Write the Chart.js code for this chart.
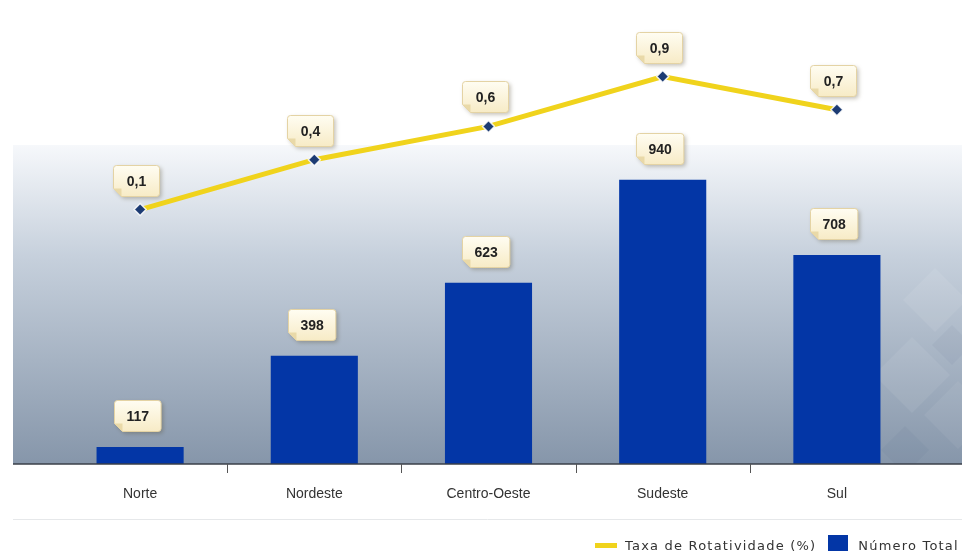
<!DOCTYPE html>
<html lang="pt">
<head>
<meta charset="utf-8">
<title>Rotatividade por região</title>
<script src="https://cdn.jsdelivr.net/npm/chart.js@4.4.1/dist/chart.umd.min.js"></script>
<style>
  html, body { margin: 0; padding: 0; background: #fff; }
  #wrap { position: relative; width: 962px; height: 551px; overflow: hidden; }
  #legend {
    position: absolute; left: 595px; top: 535px;
    font: 13px "DejaVu Sans", Verdana, sans-serif; color: #333;
    letter-spacing: 1.2px; white-space: nowrap;
    display: flex; align-items: center;
  }
  .sw-line { width: 22px; height: 5px; background: #f0d31c; margin-right: 8px; }
  .sw-box { width: 20px; height: 20px; background: #0336a6; margin: 0 10px 0 12px; }
</style>
</head>
<body>
<div id="wrap">
  <canvas id="chart" width="962" height="551"></canvas>
  <div id="legend">
    <span class="sw-line"></span><span>Taxa de Rotatividade (%)</span>
    <span class="sw-box"></span><span>Número Total</span>
  </div>
</div>
<script>
(() => {
  const regioes = ["Norte", "Nordeste", "Centro-Oeste", "Sudeste", "Sul"];
  const totalEmpregos = [117, 398, 623, 940, 708];
  const taxaRotatividade = [0.1, 0.4, 0.6, 0.9, 0.7];

  const fmtTaxa = (v) => v.toFixed(1).replace(".", ",");

  // gradient panel, axis line, boundary ticks and bottom separator
  const panelPlugin = {
    id: "panel",
    beforeDraw(chart) {
      const { ctx, chartArea } = chart;
      const top = 145;
      const bottom = chartArea.bottom;
      ctx.save();
      const g = ctx.createLinearGradient(0, top, 0, bottom);
      g.addColorStop(0, "#f6f8fb");
      g.addColorStop(0.35, "#c6d0dc");
      g.addColorStop(1, "#8696aa");
      ctx.fillStyle = g;
      ctx.fillRect(13, top, 949, bottom - top);

      // faint diamond pattern on the right edge
      ctx.beginPath();
      ctx.rect(13, top, 949, bottom - top);
      ctx.clip();
      const diamonds = [
        [935, 300, 32, "rgba(255,255,255,0.08)"],
        [912, 375, 38, "rgba(255,255,255,0.07)"],
        [958, 415, 34, "rgba(255,255,255,0.06)"],
        [905, 450, 24, "rgba(60,80,110,0.05)"],
        [952, 345, 20, "rgba(60,80,110,0.05)"]
      ];
      diamonds.forEach(([cx, cy, r, c]) => {
        ctx.fillStyle = c;
        ctx.beginPath();
        ctx.moveTo(cx, cy - r);
        ctx.lineTo(cx + r, cy);
        ctx.lineTo(cx, cy + r);
        ctx.lineTo(cx - r, cy);
        ctx.closePath();
        ctx.fill();
      });
      ctx.restore();

      ctx.save();
      ctx.strokeStyle = "#e6e8ea";
      ctx.lineWidth = 1;
      ctx.beginPath();
      ctx.moveTo(13, 519.5);
      ctx.lineTo(962, 519.5);
      ctx.stroke();
      ctx.restore();
    },
    afterDatasetsDraw(chart) {
      const { ctx, chartArea, scales } = chart;
      const y = chartArea.bottom;
      ctx.save();
      ctx.strokeStyle = "#3a3f48";
      ctx.lineWidth = 1.5;
      ctx.beginPath();
      ctx.moveTo(13, y);
      ctx.lineTo(962, y);
      ctx.stroke();
      ctx.lineWidth = 1;
      ctx.strokeStyle = "#555";
      for (let i = 0; i < regioes.length - 1; i++) {
        const x = Math.round((scales.x.getPixelForValue(i) + scales.x.getPixelForValue(i + 1)) / 2) + 0.5;
        ctx.beginPath();
        ctx.moveTo(x, y);
        ctx.lineTo(x, y + 9);
        ctx.stroke();
      }
      ctx.restore();
    }
  };

  const drawCallout = (ctx, cx, bottom, text) => {
    ctx.save();
    ctx.font = "bold 14px 'Liberation Sans', Arial, sans-serif";
    const w = Math.max(46, ctx.measureText(text).width + 24);
    const h = 31;
    const x = Math.round(cx - w / 2) + 0.5;
    const y = Math.round(bottom - h) + 0.5;
    const cut = 8;

    const path = () => {
      ctx.beginPath();
      ctx.moveTo(x + 3, y);
      ctx.lineTo(x + w - 3, y);
      ctx.quadraticCurveTo(x + w, y, x + w, y + 3);
      ctx.lineTo(x + w, y + h - 3);
      ctx.quadraticCurveTo(x + w, y + h, x + w - 3, y + h);
      ctx.lineTo(x + cut, y + h);
      ctx.lineTo(x, y + h - cut);
      ctx.lineTo(x, y + 3);
      ctx.quadraticCurveTo(x, y, x + 3, y);
      ctx.closePath();
    };

    ctx.shadowColor = "rgba(80,70,40,0.35)";
    ctx.shadowBlur = 4;
    ctx.shadowOffsetX = 2;
    ctx.shadowOffsetY = 2;
    const g = ctx.createLinearGradient(0, y, 0, y + h);
    g.addColorStop(0, "#fffdf2");
    g.addColorStop(1, "#f7ebc6");
    ctx.fillStyle = g;
    path();
    ctx.fill();
    ctx.shadowColor = "transparent";
    ctx.strokeStyle = "#e4d3a4";
    ctx.lineWidth = 1;
    path();
    ctx.stroke();

    // folded corner
    ctx.fillStyle = "#e9d9a8";
    ctx.beginPath();
    ctx.moveTo(x, y + h - cut);
    ctx.lineTo(x + cut, y + h - cut);
    ctx.lineTo(x + cut, y + h);
    ctx.closePath();
    ctx.fill();

    ctx.fillStyle = "#222";
    ctx.textAlign = "center";
    ctx.textBaseline = "middle";
    ctx.fillText(text, x + w / 2, y + h / 2 + 1);
    ctx.restore();
  };

  const calloutPlugin = {
    id: "callouts",
    afterDatasetsDraw(chart) {
      const { ctx } = chart;
      chart.getDatasetMeta(1).data.forEach((el, i) => {
        drawCallout(ctx, el.x - 3, el.y - 16, String(totalEmpregos[i]));
      });
      chart.getDatasetMeta(0).data.forEach((el, i) => {
        drawCallout(ctx, el.x - 4, el.y - 14, fmtTaxa(taxaRotatividade[i]));
      });
    }
  };

  new Chart(document.getElementById("chart"), {
    data: {
      labels: regioes,
      datasets: [
        {
          type: "line",
          label: "Taxa de Rotatividade (%)",
          data: taxaRotatividade,
          yAxisID: "yTaxa",
          order: 0,
          borderColor: "#f0d31c",
          borderWidth: 5,
          tension: 0,
          pointStyle: "rectRot",
          pointRadius: 6,
          pointHoverRadius: 6,
          pointBackgroundColor: "#1c3b73",
          pointBorderColor: "rgba(255,255,255,0.85)",
          pointBorderWidth: 1.5
        },
        {
          type: "bar",
          label: "Número Total",
          data: totalEmpregos,
          yAxisID: "yTotal",
          order: 1,
          backgroundColor: "#0336a6",
          barPercentage: 0.5,
          categoryPercentage: 1.0
        }
      ]
    },
    options: {
      responsive: false,
      animation: false,
      layout: { padding: { left: 53, right: 38, top: 10, bottom: 32 } },
      plugins: {
        legend: { display: false },
        tooltip: { enabled: false }
      },
      scales: {
        x: {
          offset: true,
          grid: { display: false },
          border: { display: false },
          ticks: {
            color: "#333",
            padding: 14,
            font: { family: "'Liberation Sans', Arial, sans-serif", size: 14 }
          },
          afterFit: (s) => { s.height = 55; }
        },
        yTotal: { display: false, min: 65, max: 1462 },
        yTaxa: { display: false, min: -1.43, max: 1.3 }
      }
    },
    plugins: [panelPlugin, calloutPlugin]
  });
})();
</script>
</body>
</html>
